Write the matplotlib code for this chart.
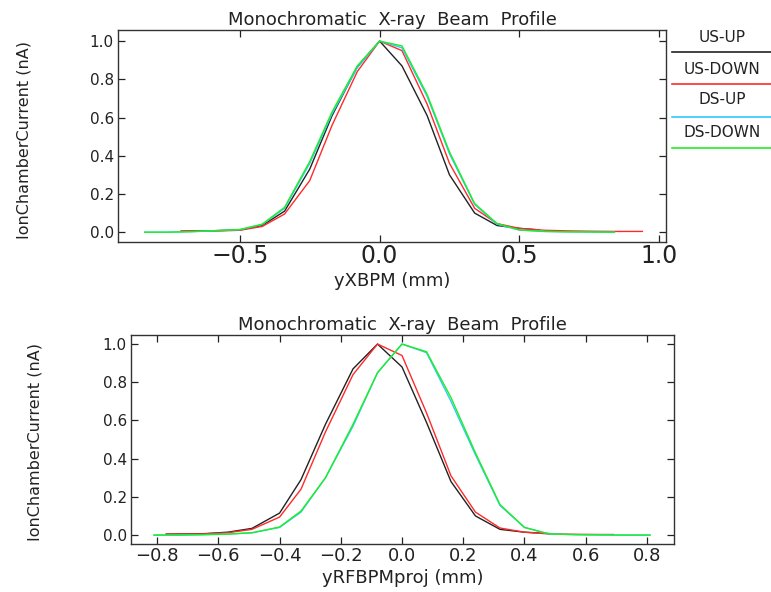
import matplotlib
matplotlib.use("Agg")
import matplotlib.pyplot as plt
from matplotlib.lines import Line2D

# series names and colours
labels = ["US-UP", "US-DOWN", "DS-UP", "DS-DOWN"]
colors = ["#222222", "#ff2a2a", "#30c8ff", "#20ee20"]

# top panel: yXBPM scan
top_x_us_up = [-0.71, -0.59, -0.50, -0.42, -0.34, -0.25, -0.17, -0.08, 0.00, 0.08,
               0.17, 0.25, 0.34, 0.42, 0.50, 0.57]
top_us_up = [0.005, 0.008, 0.012, 0.035, 0.11, 0.33, 0.61, 0.865, 1.0, 0.87,
             0.61, 0.30, 0.10, 0.035, 0.02, 0.012]

top_x_us_down = [-0.71, -0.59, -0.50, -0.42, -0.34, -0.25, -0.17, -0.08, 0.00, 0.08,
                 0.17, 0.25, 0.34, 0.42, 0.50, 0.59, 0.67, 0.76, 0.84, 0.94]
top_us_down = [0.006, 0.006, 0.01, 0.03, 0.095, 0.27, 0.56, 0.84, 1.0, 0.95,
               0.67, 0.36, 0.125, 0.045, 0.02, 0.01, 0.007, 0.005, 0.004, 0.004]

top_x_ds = [-0.84, -0.76, -0.67, -0.59, -0.50, -0.42, -0.34, -0.25, -0.17, -0.08, 0.00,
            0.08, 0.17, 0.25, 0.34, 0.42, 0.50, 0.59, 0.67, 0.76, 0.84]
top_ds_up = [0.0, 0.0, 0.003, 0.007, 0.013, 0.04, 0.125, 0.36, 0.62, 0.86, 1.0,
             0.965, 0.71, 0.41, 0.145, 0.042, 0.011, 0.004, 0.002, 0.001, 0.0]
top_ds_down = [0.0, 0.0, 0.003, 0.008, 0.014, 0.042, 0.13, 0.37, 0.63, 0.87, 1.0,
               0.975, 0.72, 0.42, 0.15, 0.045, 0.012, 0.004, 0.002, 0.001, 0.0]

# bottom panel: yRFBPMproj scan
bot_x_us_up = [-0.77, -0.65, -0.57, -0.49, -0.40, -0.33, -0.25, -0.16, -0.08, 0.00,
               0.08, 0.16, 0.24, 0.32, 0.40, 0.48]
bot_us_up = [0.005, 0.007, 0.015, 0.035, 0.115, 0.29, 0.58, 0.87, 1.0, 0.88,
             0.59, 0.28, 0.10, 0.03, 0.015, 0.008]

bot_x_us_down = [-0.77, -0.65, -0.57, -0.49, -0.40, -0.33, -0.25, -0.16, -0.08, 0.00,
                 0.08, 0.16, 0.24, 0.32, 0.40, 0.48, 0.57, 0.65, 0.69]
bot_us_down = [0.005, 0.006, 0.012, 0.03, 0.094, 0.24, 0.54, 0.84, 1.0, 0.94,
               0.64, 0.31, 0.12, 0.037, 0.015, 0.006, 0.004, 0.003, 0.003]

bot_x_ds = [-0.81, -0.73, -0.65, -0.57, -0.49, -0.40, -0.33, -0.25, -0.16, -0.08, 0.00,
            0.08, 0.16, 0.24, 0.32, 0.40, 0.48, 0.57, 0.65, 0.73, 0.81]
bot_ds_up = [0.0, 0.0, 0.002, 0.005, 0.012, 0.04, 0.12, 0.30, 0.57, 0.85, 1.0,
             0.955, 0.70, 0.42, 0.155, 0.04, 0.006, 0.002, 0.001, 0.0, 0.0]
bot_ds_down = [0.0, 0.0, 0.002, 0.005, 0.012, 0.042, 0.126, 0.30, 0.58, 0.85, 1.0,
               0.96, 0.72, 0.43, 0.16, 0.04, 0.006, 0.002, 0.001, 0.0, 0.0]

title = "Monochromatic  X-ray  Beam  Profile"
ylab = "IonChamberCurrent (nA)"

plt.rcParams["font.family"] = "DejaVu Sans"
fig = plt.figure(figsize=(7.71, 5.92), dpi=100)

ax1 = fig.add_axes([0.153, 0.591, 0.711, 0.358])
ax2 = fig.add_axes([0.170, 0.081, 0.704, 0.353])

top_series = [(top_x_us_up, top_us_up), (top_x_us_down, top_us_down),
              (top_x_ds, top_ds_up), (top_x_ds, top_ds_down)]
bot_series = [(bot_x_us_up, bot_us_up), (bot_x_us_down, bot_us_down),
              (bot_x_ds, bot_ds_up), (bot_x_ds, bot_ds_down)]

for ax, series in [(ax1, top_series), (ax2, bot_series)]:
    for (x, y), c in zip(series, colors):
        ax.plot(x, y, color=c, lw=1.0)
    ax.set_title(title, fontsize=13, color="#222222", pad=4)
    ax.set_yticks([0.0, 0.2, 0.4, 0.6, 0.8, 1.0])
    ax.tick_params(direction="in", length=5, width=0.9, top=True, right=True,
                   colors="#222222")
    ax.tick_params(axis="y", labelsize=11, pad=3)
    for s in ax.spines.values():
        s.set_linewidth(1.0)
        s.set_color("#333333")

ax1.set_xlim(-0.936, 1.025)
ax1.set_ylim(-0.052, 1.057)
ax1.set_xticks([-0.5, 0.0, 0.5, 1.0])
ax1.set_xticklabels(["\u22120.5", "0.0", "0.5", "1.0"])
ax1.tick_params(axis="x", labelsize=17, pad=1)
ax1.set_xlabel("yXBPM (mm)", fontsize=13, color="#222222")
ax1.xaxis.set_label_coords(0.5, -0.14)
ax1.set_ylabel(ylab, fontsize=11.5, color="#222222")
ax1.yaxis.set_label_coords(-0.157, 0.48)

ax2.set_xlim(-0.885, 0.888)
ax2.set_ylim(-0.047, 1.047)
ax2.set_xticks([-0.8, -0.6, -0.4, -0.2, 0.0, 0.2, 0.4, 0.6, 0.8])
ax2.tick_params(axis="x", labelsize=13, pad=2)
ax2.set_xlabel("yRFBPMproj (mm)", fontsize=13, color="#222222")
ax2.xaxis.set_label_coords(0.5, -0.12)
ax2.set_ylabel(ylab, fontsize=11.5, color="#222222")
ax2.yaxis.set_label_coords(-0.163, 0.49)

# legend drawn to the right of the top panel
text_y = [38, 70, 100, 132]
line_y = [52, 84, 117, 148]
for lab, c, ty, ly in zip(labels, colors, text_y, line_y):
    fig.text(722 / 771, 1 - ty / 592, lab, ha="center", va="center",
             fontsize=11, color="#222222")
    fig.add_artist(Line2D([672 / 771, 1.0], [1 - ly / 592, 1 - ly / 592],
                          color=c, lw=1.2, transform=fig.transFigure))

fig.savefig("out.png", dpi=100)
